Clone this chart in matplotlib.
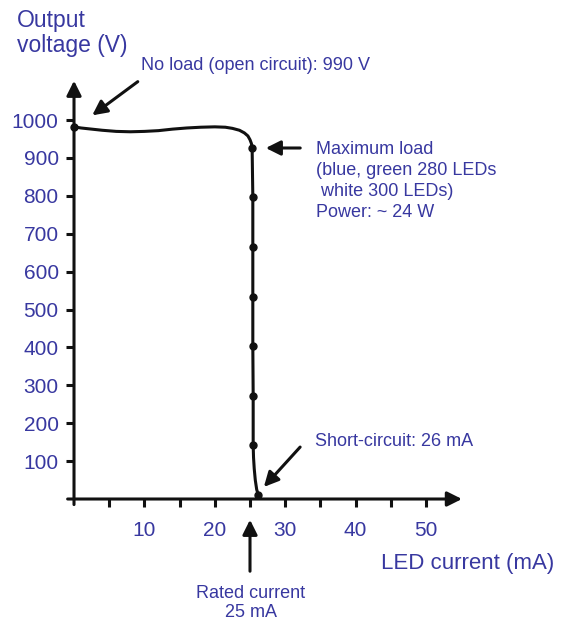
import matplotlib.pyplot as plt
from matplotlib.ticker import FixedLocator, FixedFormatter

plt.rcParams['font.family'] = ['Liberation Sans', 'DejaVu Sans']

# curve (current in mA, voltage in V)
curve_current = [0, 1, 2, 4, 6, 8, 10, 12, 14, 16, 18, 20, 21.5, 22.5, 23.5, 24.2, 24.7,
                 25.0, 25.2, 25.3, 25.4, 25.4, 25.4, 25.4, 25.45, 25.45, 25.5, 25.6,
                 25.75, 25.95, 26.2]
curve_voltage = [982, 979, 977, 973, 970, 969, 970, 972, 976, 979, 981, 982, 981, 978,
                 973, 966, 958, 948, 938, 927, 798, 666, 534, 404, 272, 142, 110, 80,
                 50, 25, 10]

# measured points (dots)
dot_current = [0, 25.3, 25.4, 25.4, 25.4, 25.4, 25.45, 25.45, 26.2]
dot_voltage = [982, 927, 798, 666, 534, 404, 272, 142, 10]

x_ticks = [5, 10, 15, 20, 25, 30, 35, 40, 45, 50]
x_labels = ['', '10', '', '20', '', '30', '', '40', '', '50']
y_ticks = [100, 200, 300, 400, 500, 600, 700, 800, 900, 1000]

blue = '#3838a0'
W, H = 563, 623

fig = plt.figure(figsize=(W / 100, H / 100), dpi=100)
# axes placed so that 0 mA -> px 74, 0 V -> px 499
ax = fig.add_axes([60 / W, (H - 510) / H, 415 / W, 440 / H])
ax.set_xlim(-1.99, 56.96)
ax.set_ylim(-29, 1132)

for s in ['top', 'right']:
    ax.spines[s].set_visible(False)
ax.spines['left'].set_position(('data', 0))
ax.spines['bottom'].set_position(('data', 0))
ax.spines['left'].set_visible(False)
ax.spines['bottom'].set_visible(False)

# axis lines with arrow heads
ax.annotate('', xy=(55.5, 0), xytext=(-1.3, 0),
            arrowprops=dict(arrowstyle='-|>', lw=2.2, color='#111111', mutation_scale=22),
            annotation_clip=False)
ax.annotate('', xy=(0, 1111), xytext=(0, -22),
            arrowprops=dict(arrowstyle='-|>', lw=2.2, color='#111111', mutation_scale=22),
            annotation_clip=False)

ax.xaxis.set_major_locator(FixedLocator(x_ticks))
ax.xaxis.set_major_formatter(FixedFormatter(x_labels))
ax.set_yticks(y_ticks)
ax.set_yticklabels([str(v) for v in y_ticks])
ax.tick_params(axis='x', direction='out', length=6, width=2.2, color='#111111',
               labelsize=15, labelcolor=blue, pad=10)
ax.tick_params(axis='y', direction='out', length=6, width=2.2, color='#111111',
               labelsize=15, labelcolor=blue, pad=5)

ax.plot(curve_current, curve_voltage, color='#111111', lw=2.2, solid_joinstyle='round')
ax.plot(dot_current, dot_voltage, 'o', color='#111111', ms=5)

# text and arrows, positioned in figure pixels
def ftext(x, y, s, **kw):
    fig.text(x / W, 1 - y / H, s, color=blue, **kw)

def farrow(tip, tail):
    ax.annotate('', xy=(tip[0], H - tip[1]), xycoords='figure pixels',
                xytext=(tail[0], H - tail[1]), textcoords='figure pixels',
                arrowprops=dict(arrowstyle='-|>', lw=2.2, color='#111111', mutation_scale=22))

ftext(17, 33, 'Output\nvoltage (V)', fontsize=16.5, va='center', ha='left', linespacing=1.15)
ftext(381, 563, 'LED current (mA)', fontsize=16, va='center', ha='left')

ftext(141, 65, 'No load (open circuit): 990 V', fontsize=13, va='center')
farrow((90, 117), (140, 80))

ftext(316, 181, 'Maximum load\n(blue, green 280 LEDs\n white 300 LEDs)\nPower: ~ 24 W',
      fontsize=13, va='center', linespacing=1.3)
farrow((263, 148), (303, 148))

ftext(315, 441, 'Short-circuit: 26 mA', fontsize=13, va='center')
farrow((262, 489), (302, 445))

ftext(251, 603, 'Rated current\n25 mA', fontsize=13, va='center', ha='center', linespacing=1.2)
farrow((250, 517), (250, 574))

fig.savefig('out.png', dpi=100)
